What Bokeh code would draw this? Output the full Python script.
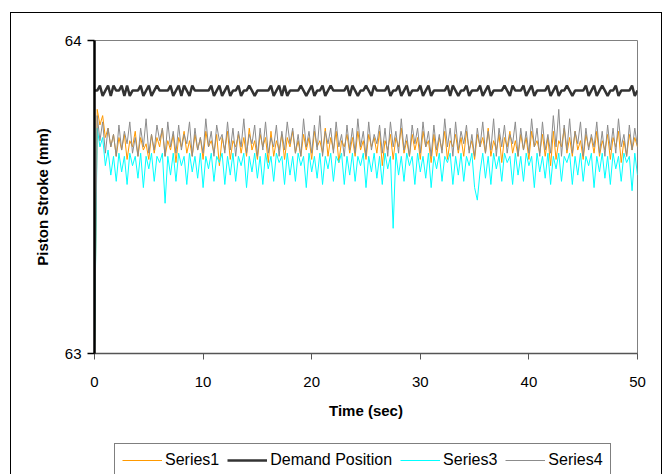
from bokeh.plotting import figure
from bokeh.layouts import column
from bokeh.models import Legend, LegendItem, FixedTicker, Range1d
from bokeh.embed import file_html
from bokeh.resources import INLINE

# sampling interval of the recorded signals (sec)
time_step = 0.25

series1 = [
    63.00, 63.78, 63.73, 63.76, 63.69, 63.72, 63.66, 63.70, 63.63, 63.69,
    63.65, 63.70, 63.62, 63.68, 63.66, 63.71, 63.63, 63.69, 63.65, 63.67,
    63.62, 63.70, 63.64, 63.69, 63.66, 63.72, 63.63, 63.68, 63.65, 63.70,
    63.61, 63.69, 63.66, 63.71, 63.64, 63.68, 63.63, 63.70, 63.65, 63.69,
    63.62, 63.71, 63.66, 63.68, 63.64, 63.70, 63.60, 63.69, 63.65, 63.71,
    63.62, 63.68, 63.66, 63.70, 63.64, 63.69, 63.63, 63.72, 63.65, 63.68,
    63.62, 63.70, 63.66, 63.69, 63.61, 63.71, 63.63, 63.68, 63.65, 63.70,
    63.62, 63.69, 63.66, 63.71, 63.64, 63.68, 63.63, 63.70, 63.65, 63.69,
    63.62, 63.71, 63.66, 63.68, 63.64, 63.72, 63.63, 63.69, 63.65, 63.71,
    63.61, 63.68, 63.66, 63.70, 63.64, 63.69, 63.63, 63.71, 63.65, 63.68,
    63.62, 63.70, 63.66, 63.69, 63.64, 63.71, 63.60, 63.68, 63.65, 63.70,
    63.62, 63.69, 63.66, 63.72, 63.64, 63.68, 63.63, 63.70, 63.65, 63.69,
    63.62, 63.71, 63.66, 63.68, 63.61, 63.70, 63.63, 63.69, 63.65, 63.71,
    63.62, 63.68, 63.66, 63.70, 63.64, 63.69, 63.63, 63.71, 63.65, 63.68,
    63.62, 63.70, 63.66, 63.69, 63.64, 63.72, 63.63, 63.68, 63.65, 63.70,
    63.61, 63.69, 63.66, 63.71, 63.64, 63.68, 63.63, 63.70, 63.65, 63.69,
    63.62, 63.71, 63.66, 63.68, 63.64, 63.70, 63.63, 63.69, 63.60, 63.71,
    63.62, 63.68, 63.66, 63.72, 63.64, 63.69, 63.63, 63.71, 63.65, 63.68,
    63.62, 63.70, 63.66, 63.69, 63.64, 63.71, 63.63, 63.68, 63.65, 63.70,
    63.62, 63.69, 63.66, 63.71, 63.61, 63.68, 63.63, 63.70, 63.65, 63.69,
    63.66,
]

demand_position = [
    63.840,
    63.840, 63.856, 63.823, 63.840, 63.856, 63.823, 63.856, 63.840, 63.840, 63.856,
    63.823, 63.856, 63.823, 63.840, 63.840, 63.840, 63.856, 63.823, 63.840, 63.856,
    63.823, 63.840, 63.856, 63.840, 63.840, 63.840, 63.840, 63.856, 63.823, 63.840,
    63.856, 63.823, 63.856, 63.840, 63.823, 63.856, 63.840, 63.840, 63.840, 63.840,
    63.840, 63.840, 63.856, 63.823, 63.840, 63.856, 63.823, 63.840, 63.856, 63.823,
    63.840, 63.840, 63.856, 63.823, 63.840, 63.840, 63.856, 63.840, 63.823, 63.840,
    63.840, 63.840, 63.840, 63.840, 63.856, 63.823, 63.840, 63.856, 63.823, 63.856,
    63.823, 63.840, 63.840, 63.840, 63.840, 63.856, 63.840, 63.823, 63.840, 63.856,
    63.823, 63.840, 63.840, 63.856, 63.823, 63.840, 63.856, 63.840, 63.840, 63.840,
    63.840, 63.840, 63.856, 63.823, 63.856, 63.840, 63.823, 63.840, 63.840, 63.856,
    63.840, 63.823, 63.856, 63.840, 63.840, 63.840, 63.840, 63.856, 63.823, 63.840,
    63.840, 63.856, 63.823, 63.840, 63.856, 63.823, 63.840, 63.840, 63.840, 63.856,
    63.823, 63.840, 63.856, 63.823, 63.840, 63.840, 63.840, 63.840, 63.840, 63.856,
    63.823, 63.856, 63.840, 63.823, 63.840, 63.840, 63.856, 63.823, 63.840, 63.840,
    63.840, 63.856, 63.823, 63.840, 63.856, 63.823, 63.840, 63.840, 63.840, 63.840,
    63.856, 63.840, 63.823, 63.856, 63.840, 63.840, 63.840, 63.856, 63.823, 63.840,
    63.856, 63.823, 63.840, 63.840, 63.840, 63.840, 63.856, 63.823, 63.840, 63.856,
    63.823, 63.840, 63.840, 63.856, 63.840, 63.823, 63.840, 63.840, 63.840, 63.840,
    63.856, 63.823, 63.840, 63.856, 63.823, 63.840, 63.856, 63.840, 63.823, 63.840,
    63.840, 63.856, 63.823, 63.840, 63.840, 63.840, 63.840, 63.856, 63.823, 63.840,
]

series3 = [
    63.00, 63.72, 63.66, 63.69, 63.60, 63.65, 63.57, 63.63, 63.55, 63.64,
    63.58, 63.63, 63.54, 63.64, 63.60, 63.63, 63.56, 63.64, 63.53, 63.63,
    63.59, 63.64, 63.55, 63.63, 63.61, 63.64, 63.48, 63.63, 63.57, 63.64,
    63.55, 63.64, 63.60, 63.63, 63.54, 63.64, 63.58, 63.63, 63.56, 63.64,
    63.53, 63.63, 63.59, 63.64, 63.55, 63.63, 63.61, 63.64, 63.54, 63.63,
    63.57, 63.64, 63.55, 63.63, 63.60, 63.64, 63.53, 63.63, 63.58, 63.64,
    63.56, 63.63, 63.54, 63.64, 63.59, 63.63, 63.55, 63.64, 63.61, 63.63,
    63.54, 63.64, 63.57, 63.63, 63.55, 63.64, 63.60, 63.63, 63.53, 63.64,
    63.58, 63.63, 63.56, 63.64, 63.54, 63.63, 63.59, 63.64, 63.55, 63.63,
    63.61, 63.64, 63.54, 63.63, 63.57, 63.64, 63.55, 63.63, 63.60, 63.64,
    63.53, 63.63, 63.58, 63.64, 63.56, 63.63, 63.54, 63.64, 63.59, 63.63,
    63.40, 63.64, 63.57, 63.63, 63.55, 63.64, 63.60, 63.63, 63.54, 63.64,
    63.58, 63.63, 63.56, 63.64, 63.53, 63.63, 63.59, 63.64, 63.55, 63.63,
    63.61, 63.64, 63.54, 63.63, 63.57, 63.64, 63.55, 63.63, 63.60, 63.64,
    63.53, 63.49, 63.58, 63.64, 63.56, 63.63, 63.54, 63.64, 63.59, 63.63,
    63.55, 63.64, 63.61, 63.63, 63.54, 63.64, 63.57, 63.63, 63.55, 63.64,
    63.60, 63.63, 63.53, 63.64, 63.58, 63.63, 63.56, 63.64, 63.54, 63.63,
    63.59, 63.64, 63.55, 63.63, 63.61, 63.64, 63.54, 63.63, 63.57, 63.64,
    63.55, 63.63, 63.60, 63.64, 63.53, 63.63, 63.58, 63.64, 63.56, 63.63,
    63.54, 63.64, 63.59, 63.63, 63.55, 63.64, 63.61, 63.63, 63.52, 63.64,
    63.57,
]

series4 = [
    63.00, 63.76, 63.68, 63.74, 63.64, 63.72, 63.66, 63.70, 63.63, 63.73,
    63.65, 63.71, 63.67, 63.74, 63.64, 63.69, 63.63, 63.72, 63.66, 63.75,
    63.64, 63.70, 63.65, 63.73, 63.68, 63.72, 63.63, 63.74, 63.66, 63.71,
    63.64, 63.73, 63.65, 63.70, 63.67, 63.74, 63.63, 63.72, 63.65, 63.69,
    63.64, 63.75, 63.66, 63.71, 63.63, 63.73, 63.68, 63.70, 63.64, 63.74,
    63.65, 63.72, 63.63, 63.71, 63.66, 63.75, 63.64, 63.70, 63.67, 63.73,
    63.63, 63.72, 63.65, 63.74, 63.64, 63.69, 63.66, 63.73, 63.63, 63.71,
    63.65, 63.74, 63.67, 63.72, 63.64, 63.70, 63.63, 63.75, 63.66, 63.71,
    63.64, 63.73, 63.65, 63.76, 63.63, 63.71, 63.67, 63.72, 63.64, 63.74,
    63.66, 63.70, 63.63, 63.73, 63.65, 63.72, 63.64, 63.75, 63.66, 63.71,
    63.63, 63.74, 63.65, 63.70, 63.67, 63.73, 63.64, 63.72, 63.63, 63.74,
    63.66, 63.71, 63.64, 63.75, 63.65, 63.70, 63.63, 63.73, 63.67, 63.72,
    63.64, 63.74, 63.66, 63.71, 63.63, 63.73, 63.65, 63.70, 63.64, 63.75,
    63.66, 63.72, 63.63, 63.74, 63.65, 63.71, 63.67, 63.73, 63.64, 63.70,
    63.63, 63.72, 63.66, 63.74, 63.64, 63.71, 63.65, 63.75, 63.63, 63.72,
    63.66, 63.73, 63.64, 63.70, 63.67, 63.74, 63.63, 63.72, 63.65, 63.71,
    63.64, 63.75, 63.66, 63.72, 63.63, 63.74, 63.65, 63.70, 63.64, 63.76,
    63.66, 63.78, 63.63, 63.73, 63.65, 63.75, 63.64, 63.71, 63.67, 63.74,
    63.63, 63.72, 63.65, 63.70, 63.66, 63.74, 63.64, 63.71, 63.63, 63.73,
    63.65, 63.72, 63.64, 63.75, 63.66, 63.70, 63.63, 63.73, 63.65, 63.72,
    63.66,
]

series_names = ["Series1", "Demand Position", "Series3", "Series4"]
x_ticks = [0, 10, 20, 30, 40, 50]
y_ticks = [63, 64]

time = [i * time_step for i in range(len(series1))]

FONT = "Liberation Sans"
styles_list = [
    dict(line_color="#FF9900", line_width=1),
    dict(line_color="#333333", line_width=2.5),
    dict(line_color="#00FFFF", line_width=1),
    dict(line_color="#8C8C8C", line_width=1),
]

# ---------------- main chart ----------------
p = figure(
    width=650, height=410,
    output_backend="svg", toolbar_location=None,
    x_range=Range1d(0, 50), y_range=Range1d(63, 64),
    min_border_left=83, min_border_right=24,
    min_border_top=27, min_border_bottom=70,
    background_fill_color="white", border_fill_color="white",
)
p.grid.visible = False
p.outline_line_color = "#808080"
p.outline_line_width = 1

for vals, st in zip([series1, demand_position, series3, series4], styles_list):
    p.line(time, vals, **st)

xa = p.xaxis[0]
xa.ticker = FixedTicker(ticks=x_ticks)
xa.axis_label = "Time (sec)"
xa.axis_line_color = "#555555"
xa.axis_line_width = 1.5
xa.major_tick_line_color = "#555555"
xa.major_tick_out = 6
xa.major_tick_in = 0
xa.minor_tick_line_color = None
xa.major_label_standoff = 17
xa.axis_label_standoff = 12
xa.major_label_text_font = FONT
xa.major_label_text_font_size = "15px"
xa.major_label_text_color = "black"
xa.axis_label_text_font = FONT
xa.axis_label_text_font_size = "15px"
xa.axis_label_text_font_style = "bold"
xa.axis_label_text_color = "black"

ya = p.yaxis[0]
ya.ticker = FixedTicker(ticks=y_ticks)
ya.axis_label = "Piston Stroke (mm)"
ya.axis_line_color = "black"
ya.axis_line_width = 2.5
ya.major_tick_line_color = "black"
ya.major_tick_line_width = 1.5
ya.major_tick_out = 7
ya.major_tick_in = 0
ya.minor_tick_line_color = None
ya.major_label_standoff = 6
ya.axis_label_standoff = 11
ya.major_label_text_font = FONT
ya.major_label_text_font_size = "15px"
ya.major_label_text_color = "black"
ya.axis_label_text_font = FONT
ya.axis_label_text_font_size = "15px"
ya.axis_label_text_font_style = "bold"
ya.axis_label_text_color = "black"

# ---------------- legend strip ----------------
lf = figure(
    width=650, height=51,
    output_backend="svg", toolbar_location=None,
    x_range=Range1d(0, 1), y_range=Range1d(0, 1),
    min_border=0, min_border_left=0, min_border_right=0,
    min_border_top=0, min_border_bottom=0,
    background_fill_color="white", border_fill_color="white",
)
lf.axis.visible = False
lf.grid.visible = False
lf.outline_line_color = None

items = []
for name, st in zip(series_names, styles_list):
    # placeholder renderer lying outside the strip's visible range
    r = lf.line([5, 6], [5, 6], **st)
    items.append(LegendItem(label=name, renderers=[r]))

legend = Legend(
    items=items,
    orientation="horizontal",
    location=(20, -3),
    border_line_color="black",
    border_line_width=1,
    background_fill_color="white",
    background_fill_alpha=1.0,
    label_text_font=FONT,
    label_text_font_size="16px",
    label_text_color="black",
    glyph_width=40,
    glyph_height=16,
    label_standoff=3,
    spacing=8,
    padding=7,
    margin=0,
)
lf.add_layout(legend)

layout = column(p, lf, spacing=0)
layout.margin = (12, 0, 0, 10)
layout.styles = {
    "border-left": "1px solid black",
    "border-top": "1px solid black",
    "border-right": "1px solid black",
}

open("out.html", "w").write(file_html(layout, INLINE))
